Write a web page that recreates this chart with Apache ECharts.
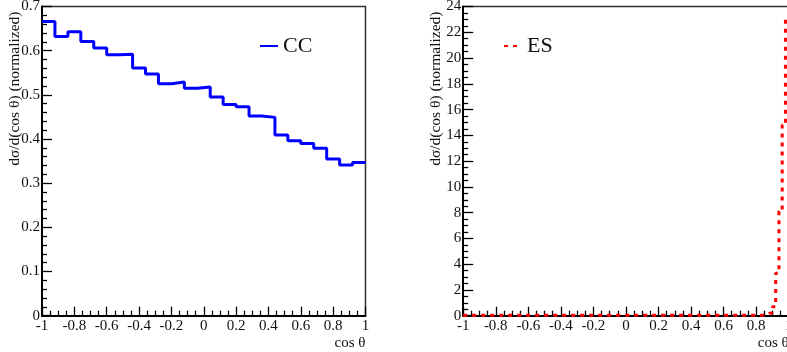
<!DOCTYPE html>
<html>
<head>
<meta charset="utf-8">
<script src="https://cdn.jsdelivr.net/npm/echarts@6/dist/echarts.min.js"></script>
<style>html,body{margin:0;padding:0;background:#fff;}#c{width:787px;height:352px;}</style>
</head>
<body>
<div id="c"></div>
<script>
// ---- data ----
const xRange = [-1, 1];
const xTickInterval = 0.2;
const ccYRange = [0, 0.7];
const ccYInterval = 0.1;
const esYRange = [0, 24];
const esYInterval = 2;
const ccName = 'CC';
const esName = 'ES';
const xTitle = 'cos \u03b8';
const yTitle = 'd\u03c3/d(cos \u03b8) (normalized)';

// CC: 25 bins of width 0.08 over [-1, 1]
const ccValues = [0.666, 0.632, 0.643, 0.621, 0.606, 0.591, 0.592, 0.561, 0.547, 0.525,
                  0.529, 0.515, 0.518, 0.495, 0.478, 0.473, 0.452, 0.449, 0.409, 0.396,
                  0.390, 0.379, 0.355, 0.341, 0.347];
// ES: 100 bins of width 0.02 over [-1, 1]
const esValues = [
  0.03,0.03,0.03,0.03,0.03,0.03,0.03,0.03,0.03,0.03,
  0.03,0.03,0.03,0.03,0.03,0.03,0.03,0.03,0.03,0.03,
  0.03,0.03,0.03,0.03,0.03,0.03,0.03,0.03,0.03,0.03,
  0.03,0.03,0.03,0.03,0.03,0.03,0.03,0.03,0.03,0.03,
  0.03,0.03,0.03,0.03,0.03,0.03,0.03,0.03,0.03,0.03,
  0.03,0.03,0.03,0.03,0.03,0.03,0.03,0.03,0.03,0.03,
  0.03,0.03,0.03,0.03,0.03,0.03,0.03,0.03,0.03,0.03,
  0.03,0.03,0.03,0.03,0.03,0.03,0.03,0.03,0.03,0.03,
  0.03,0.03,0.03,0.03,0.03,0.03,0.03,0.03,0.03,0.03,
  0.03,0.03,0.05,0.19,0.2,0.7,3.3,8.1,14.8,23.2
];

function histData(vals, lo, hi) {
  const w = (hi - lo) / vals.length;
  const d = vals.map((v, i) => [lo + i * w, v]);
  d.push([hi, vals[vals.length - 1]]);
  return d;
}

const FONT = 'Liberation Serif';
const TXT = '#111';

function xAxisCfg(gi) {
  return {
    type: 'value', gridIndex: gi, min: xRange[0], max: xRange[1], interval: xTickInterval,
    name: xTitle, nameLocation: 'end', nameGap: 0, nameMoveOverlap: false,
    nameTextStyle: { fontFamily: FONT, fontSize: 15, color: TXT, align: 'right', verticalAlign: 'top', padding: [20, 0, 0, 0] },
    axisLine: { show: true, onZero: false, lineStyle: { color: '#000', width: 2 } },
    axisTick: { show: true, inside: true, length: 9, lineStyle: { color: '#000', width: 1.3 } },
    minorTick: { show: true, splitNumber: 4, length: 5, lineStyle: { color: '#000', width: 1.3 } },
    axisLabel: { show: true, margin: 3, fontFamily: FONT, fontSize: 15, color: TXT, showMinLabel: true, showMaxLabel: true, hideOverlap: false },
    splitLine: { show: false }
  };
}
function yAxisCfg(gi, rng, iv, minorSplit) {
  return {
    type: 'value', gridIndex: gi, min: rng[0], max: rng[1], interval: iv,
    name: yTitle, nameLocation: 'end', nameGap: -5, nameRotate: 90, nameMoveOverlap: false,
    nameTextStyle: { fontFamily: FONT, fontSize: 15.5, color: TXT, align: 'right', verticalAlign: 'bottom', padding: [0, 0, 19, 0] },
    axisLine: { show: true, onZero: false, lineStyle: { color: '#000', width: 2 } },
    axisTick: { show: true, inside: true, length: 10, lineStyle: { color: '#000', width: 1.3 } },
    minorTick: { show: true, splitNumber: minorSplit, length: 5, lineStyle: { color: '#000', width: 1.3 } },
    axisLabel: { show: true, margin: 2, fontFamily: FONT, fontSize: 15, color: TXT, showMinLabel: true, showMaxLabel: true },
    splitLine: { show: false }
  };
}

const chart = echarts.init(document.getElementById('c'), null, { renderer: 'canvas' });
chart.setOption({
  animation: false,
  backgroundColor: '#fff',
  grid: [
    { left: 42, top: 6.5, width: 323.5, height: 309.2, show: true, borderColor: '#333', borderWidth: 1.5, backgroundColor: 'transparent', containLabel: false, outerBoundsMode: 'none' },
    { left: 463.2, top: 6.5, width: 325.5, height: 309.2, show: true, borderColor: '#333', borderWidth: 1.5, backgroundColor: 'transparent', containLabel: false, outerBoundsMode: 'none' }
  ],
  xAxis: [xAxisCfg(0), xAxisCfg(1)],
  yAxis: [yAxisCfg(0, ccYRange, ccYInterval, 5), yAxisCfg(1, esYRange, esYInterval, 4)],
  legend: [
    { data: [ccName], left: 259, top: 35, padding: 0, itemWidth: 18, itemHeight: 14,
      itemStyle: { opacity: 0 },
      textStyle: { fontFamily: FONT, fontSize: 22, color: TXT } },
    { data: [esName], left: 503, top: 35, padding: 0, itemWidth: 18, itemHeight: 14,
      itemStyle: { opacity: 0 },
      textStyle: { fontFamily: FONT, fontSize: 22, color: TXT } }
  ],
  series: [
    { name: ccName, type: 'line', step: 'end', xAxisIndex: 0, yAxisIndex: 0, symbol: 'none', showSymbol: false,
      data: histData(ccValues, xRange[0], xRange[1]),
      lineStyle: { color: '#0000ff', width: 3 }, itemStyle: { color: '#0000ff' } },
    { name: esName, type: 'line', step: 'end', xAxisIndex: 1, yAxisIndex: 1, symbol: 'none', showSymbol: false,
      data: histData(esValues, xRange[0], xRange[1]),
      lineStyle: { color: '#ff0000', width: 3, type: [4, 5] }, itemStyle: { color: '#ff0000' } }
  ]
});
</script>
</body>
</html>
